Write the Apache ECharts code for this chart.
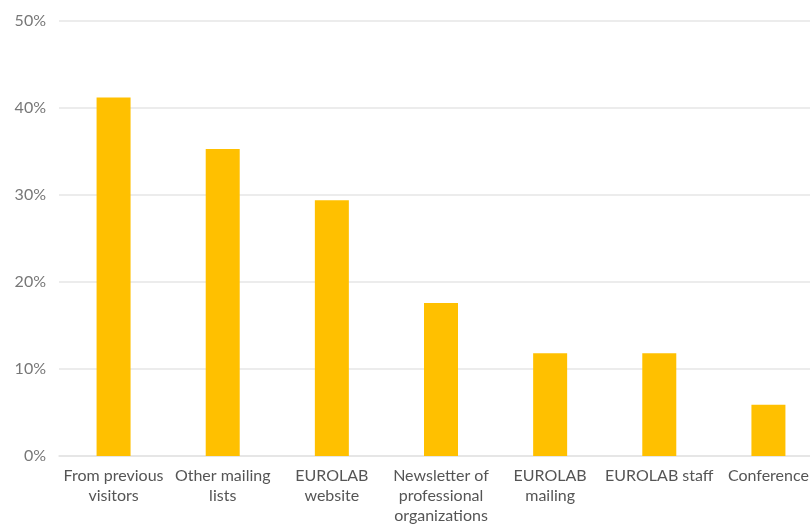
<!DOCTYPE html>
<html>
<head>
<meta charset="utf-8">
<script src="https://cdn.jsdelivr.net/npm/echarts@6/dist/echarts.min.js"></script>
<style>
html,body{margin:0;padding:0;background:#fff;}
#chart{width:810px;height:524px;}
</style>
</head>
<body>
<div id="chart"></div>
<script>
const categories = [
  "From previous\nvisitors",
  "Other mailing\nlists",
  "EUROLAB\nwebsite",
  "Newsletter of\nprofessional\norganizations",
  "EUROLAB\nmailing",
  "EUROLAB staff",
  "Conference"
];
const values = [41.2, 35.3, 29.4, 17.6, 11.8, 11.8, 5.9];
const yTicks = { min: 0, max: 50, interval: 10 };

const chart = echarts.init(document.getElementById('chart'), null, { renderer: 'canvas' });
chart.setOption({
  animation: false,
  backgroundColor: '#ffffff',
  grid: { left: 59, top: 21, width: 764, bottom: 68, outerBoundsMode: 'none', containLabel: false },
  xAxis: {
    type: 'category',
    data: categories,
    axisTick: { show: false },
    axisLine: { lineStyle: { color: '#e3e3e3', width: 1.5 } },
    axisLabel: {
      interval: 0,
      color: '#555',
      fontFamily: 'Lato',
      fontSize: 16,
      lineHeight: 20,
      margin: 10
    }
  },
  yAxis: {
    type: 'value',
    min: yTicks.min,
    max: yTicks.max,
    interval: yTicks.interval,
    axisLine: { show: false },
    axisTick: { show: false },
    splitLine: { lineStyle: { color: '#e6e6e6', width: 1.5 } },
    axisLabel: {
      formatter: '{value}%',
      color: '#777',
      fontFamily: 'Lato',
      fontSize: 16,
      margin: 13
    }
  },
  series: [{
    type: 'bar',
    data: values,
    barWidth: 34,
    itemStyle: { color: '#ffc000' }
  }]
});
</script>
</body>
</html>
